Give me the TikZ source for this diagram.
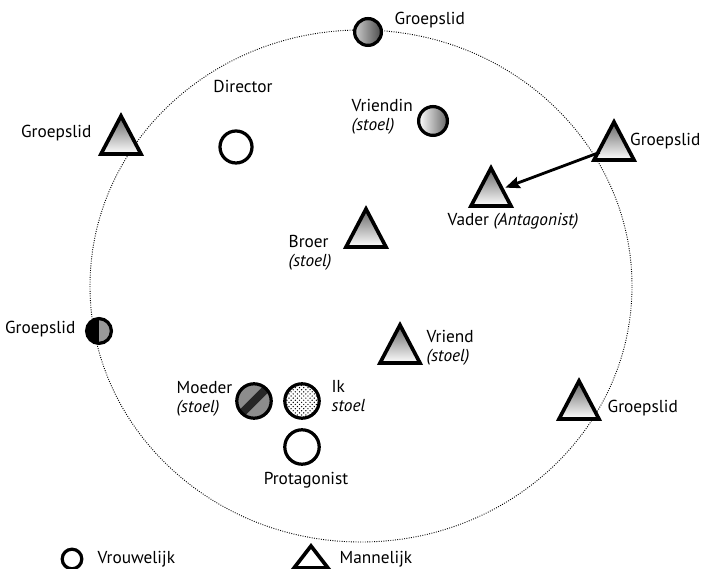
\documentclass[tikz,border=0pt]{standalone}
\usepackage{fontspec}
\setmainfont{PT Sans}
\usetikzlibrary{arrows.meta, shapes.geometric, patterns, calc}

\newcommand{\mtri}[2]{\draw[tri,#2] ($(#1)+(0,25)$) -- ($(#1)+(20,-13)$) -- ($(#1)+(-20,-13)$) -- cycle;}

\begin{document}
\begin{tikzpicture}[x=0.025cm, y=0.025cm, >={Stealth[length=3.6mm,width=2.9mm,inset=0.5mm]},
  every node/.style={font=\fontsize{12.3}{13.5}\selectfont, inner sep=1pt},
  rol/.style={circle, draw, line width=2.3pt, inner sep=0pt, fill=white},
  spot/.style={circle, inner sep=0pt, minimum size=7.5mm},
  tri/.style={line width=2.6pt},
  grijs/.style={top color=black!60, bottom color=white}]
  \useasboundingbox (0,0) rectangle (704,-569);
  \draw[densely dotted, line width=0.65pt] (361,-286) ellipse [x radius=271, y radius=256];

  \node[spot] (gLT) at (121,-141) {};
  \node[spot] (gRT) at (614,-147) {};
  \node[spot] (vader) at (491,-193) {};
  \node[spot] (broer) at (366,-234) {};
  \node[spot] (vriend) at (400,-350) {};
  \node[spot] (gRB) at (579,-406) {};
  \mtri{gLT}{grijs}
  \mtri{gRT}{grijs}
  \mtri{vader}{grijs}
  \mtri{broer}{grijs}
  \mtri{vriend}{grijs}
  \mtri{gRB}{grijs}
  \draw[->, line width=2pt] (gRT) -- (vader);

  \node[rol, minimum size=6.7mm, left color=black!20, right color=black!70] (gTop) at (368,-32) {};
  \node[rol, minimum size=8mm] (dir) at (236,-147) {};
  \node[rol, minimum size=7.2mm, left color=white, right color=black!60] (vriendin) at (433,-121) {};
  \node[rol, minimum size=6.2mm, fill=black!40, path picture={\fill[black] (path picture bounding box.north west) rectangle (path picture bounding box.south);}] (gLC) at (99,-331) {};
  \node[rol, minimum size=8.6mm, fill=black!45, path picture={\draw[black!85, line width=2mm] (path picture bounding box.south west) -- (path picture bounding box.north east);}] (moeder) at (254,-401) {};
  \node[rol, minimum size=8.6mm, pattern=crosshatch dots] (ik) at (302,-401) {};
  \node[rol, minimum size=8.6mm] (prot) at (302,-447) {};

  \node[anchor=west] (lblTop) at (393,-20) {Groepslid};
  \node[anchor=east] (lblLT) at (93,-133) {Groepslid};
  \node (lblDir) at (243,-86) {Director};
  \node[anchor=west, align=left] (lblVrd) at (350,-117) {Vriendin\\\textit{(stoel)}};
  \node[anchor=east] (lblRT) at (702,-141) {Groepslid};
  \node (lblVad) at (513,-221) {Vader \textit{(Antagonist)}};
  \node[anchor=west, align=left] (lblBro) at (287,-253) {Broer\\\textit{(stoel)}};
  \node[anchor=east] (lblLC) at (77,-329) {Groepslid};
  \node[anchor=west, align=left] (lblVri) at (425,-348) {Vriend\\\textit{(stoel)}};
  \node[anchor=east, align=left] (lblMoe) at (234,-399) {Moeder\\\textit{(stoel)}};
  \node[anchor=west, align=left] (lblIk) at (330,-396) {Ik\\\textit{stoel}};
  \node (lblPro) at (306,-480) {Protagonist};
  \node[anchor=west] (lblRB) at (606,-408) {Groepslid};

  \node[rol, minimum size=4.9mm] (vrouw) at (72,-559) {};
  \node[anchor=west] (lblVrw) at (96,-559) {Vrouwelijk};
  \coordinate (man) at (311,-557);
  \draw[tri] ($(man)+(0,11)$) -- ($(man)+(17,-11)$) -- ($(man)+(-17,-11)$) -- cycle;
  \node[anchor=west] (lblMan) at (338,-559) {Mannelijk};
\end{tikzpicture}
\end{document}
